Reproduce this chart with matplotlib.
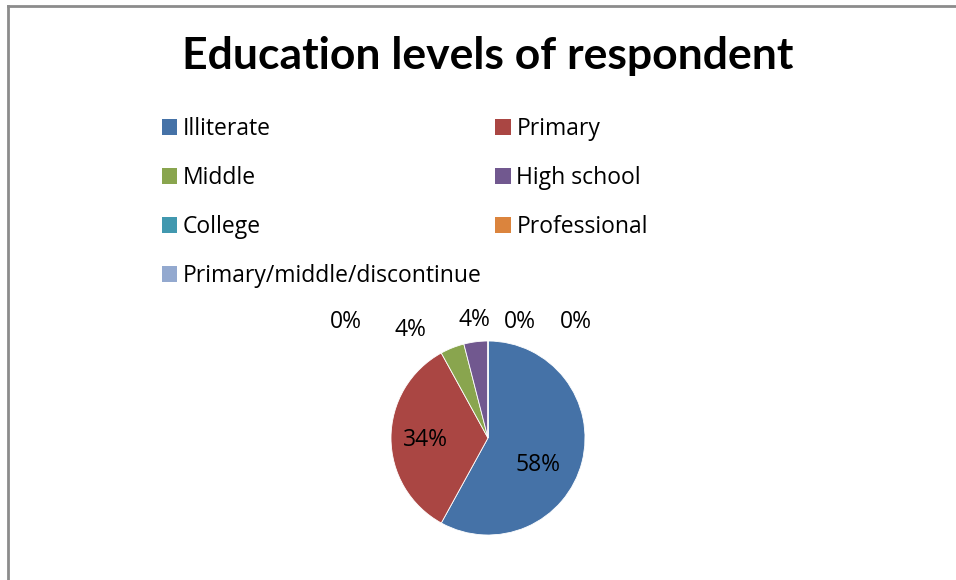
import matplotlib.pyplot as plt
from matplotlib.patches import Patch

plt.rcParams["font.family"] = ["Open Sans", "DejaVu Sans"]

# education level shares (%)
categories = ["Illiterate", "Primary", "Middle", "High school", "College",
              "Professional", "Primary/middle/discontinue"]
shares = [58, 34, 4, 4, 0, 0, 0]
colors = ["#4572A7", "#AA4643", "#89A54E", "#71588F", "#4198AF",
          "#DB843D", "#93A9CF"]

# where each percentage label sits, in pie-radius units
label_pos = [(0.52, -0.28), (-0.65, -0.02), (-0.80, 1.11), (-0.14, 1.22),
             (0.33, 1.20), (0.91, 1.20), (-1.47, 1.20)]

W, H = 956, 580
fig = plt.figure(figsize=(W / 100, H / 100), dpi=100)
fig.patch.set_facecolor("white")

# chart frame (only left and top edges show)
fig.add_artist(plt.Line2D([8 / W, 8 / W], [0, 1 - 6 / H], color="#8C8C8C",
                          linewidth=2, transform=fig.transFigure))
fig.add_artist(plt.Line2D([8 / W, 1], [1 - 6 / H, 1 - 6 / H], color="#8C8C8C",
                          linewidth=2, transform=fig.transFigure))

fig.text(488 / W, 1 - 56 / H, "Education levels of respondent", ha="center",
         va="center", fontsize=32, fontweight="bold", family=["Lato", "DejaVu Sans"])

cx, cy, r = 488, 438, 97
ax = fig.add_axes([(cx - r) / W, (H - cy - r) / H, 2 * r / W, 2 * r / H])
wedges, _ = ax.pie(shares, colors=colors, startangle=90, counterclock=False,
                   radius=1, wedgeprops=dict(edgecolor="white", linewidth=0.6))
ax.set_xlim(-1, 1)
ax.set_ylim(-1, 1)
ax.set_aspect("equal")
ax.axis("off")

for v, (lx, ly) in zip(shares, label_pos):
    ax.text(lx, ly, "{:.0f}%".format(v), ha="center", va="center",
            fontsize=16.5, clip_on=False)

# legend laid out row by row in two columns
handles = [Patch(facecolor=c, edgecolor="none") for c in colors]
order = [0, 2, 4, 6, 1, 3, 5]
fig.legend([handles[i] for i in order], [categories[i] for i in order],
           ncol=2, loc="upper left", bbox_to_anchor=(162 / W, 1 - 117 / H),
           frameon=False, fontsize=16.5, handlelength=0.66, handleheight=0.66,
           handletextpad=0.25, labelspacing=1.09, columnspacing=0.6,
           borderpad=0, borderaxespad=0)

fig.savefig("out.png", dpi=100)
